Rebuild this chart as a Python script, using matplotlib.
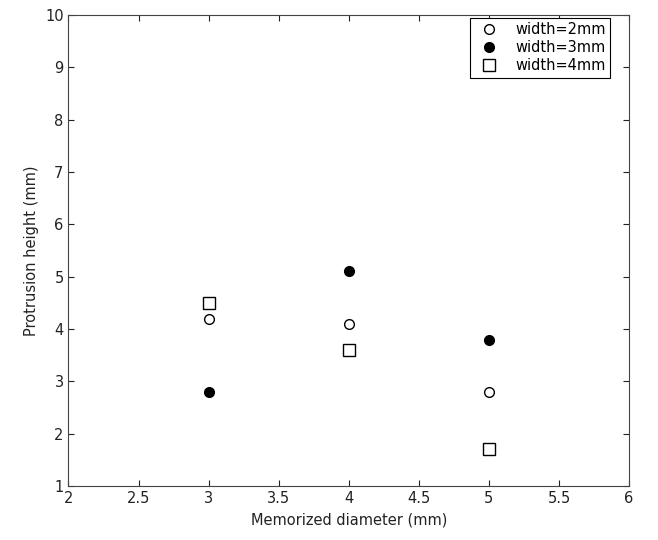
import matplotlib.pyplot as plt
from matplotlib.ticker import FuncFormatter

# data
diameter = [3, 4, 5]
h_w2 = [4.2, 4.1, 2.8]
h_w3 = [2.8, 5.1, 3.8]
h_w4 = [4.5, 3.6, 1.7]

xticks = [2, 2.5, 3, 3.5, 4, 4.5, 5, 5.5, 6]
yticks = list(range(1, 11))

plt.rcParams['font.family'] = 'DejaVu Sans'
plt.rcParams['font.size'] = 10.5

fig = plt.figure(figsize=(6.58, 5.40), dpi=100)
ax = fig.add_axes([0.104, 0.1, 0.852, 0.872])

ax.plot(diameter, h_w2, 'o', mfc='white', mec='black', ms=7, mew=1, label='width=2mm')
ax.plot(diameter, h_w3, 'o', mfc='black', mec='black', ms=7, mew=1, label='width=3mm')
ax.plot(diameter, h_w4, 's', mfc='white', mec='black', ms=8, mew=1, label='width=4mm')

ax.set_xlim(2, 6)
ax.set_ylim(1, 10)
ax.set_xticks(xticks)
ax.set_yticks(yticks)
ax.xaxis.set_major_formatter(FuncFormatter(lambda v, p: ('%g' % v)))
ax.tick_params(direction='in', top=True, right=True, length=4, colors='#222222', labelcolor='#222222')
for s in ax.spines.values():
    s.set_color('#444444')

ax.set_xlabel('Memorized diameter (mm)', color='#222222', labelpad=5)
ax.set_ylabel('Protrusion height (mm)', color='#222222')

# legend box sits a bit left of the right spine, close to the top
leg = ax.legend(loc='upper right', bbox_to_anchor=(0.966, 0.994), borderaxespad=0,
                fancybox=False, edgecolor='black', framealpha=1,
                handletextpad=0.8, numpoints=1, borderpad=0.3, labelspacing=0.2)
leg.get_frame().set_linewidth(0.8)

fig.savefig('out.png')
